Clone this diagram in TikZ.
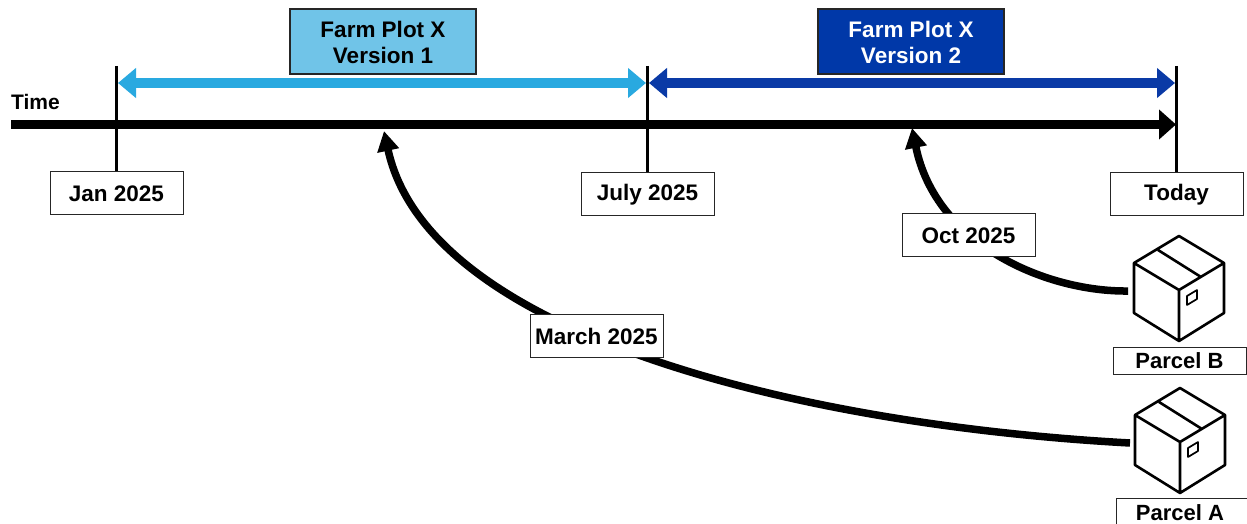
\documentclass[tikz,border=0pt]{standalone}
\usepackage{fontspec}
\setmainfont{Liberation Sans}
\usetikzlibrary{arrows.meta}
\definecolor{lightband}{HTML}{29A9E0}
\definecolor{lightfill}{HTML}{70C4E8}
\definecolor{darkband}{HTML}{0A3AA6}
\definecolor{darkfill}{HTML}{0038A8}
\pgfdeclarelayer{back}
\pgfsetlayers{back,main}
\newcommand{\lowered}[1]{\raisebox{-1.2pt}[\height][\depth]{#1}}
\tikzset{
  x=1pt,y=-1pt,
  every node/.style={font=\fontsize{22.5}{26}\selectfont\bfseries,inner sep=0pt,align=center},
  datebox/.style={draw=black!85,line width=1pt,fill=white,minimum width=133pt,minimum height=43pt},
  parcelbox/.style={draw=black!85,line width=1pt,fill=white,minimum height=27pt,font=\fontsize{22}{26}\selectfont\bfseries},
  versionbox/.style={draw=black!85,line width=1.1pt,minimum width=186pt,minimum height=65pt},
  tick/.style={line width=3pt,black},
  axis/.style={line width=9pt,black,-{Triangle[length=17pt,width=29pt]}},
  band/.style={line width=10.5pt,{Triangle[length=18pt,width=29pt]}-{Triangle[length=18pt,width=29pt]}},
  curvearrow/.style={line width=7.5pt,black,-{Triangle[length=20pt,width=21pt]}},
  parcelicon/.pic={
    \draw[line width=2.6pt,line join=round,black]
      (0,0) -- (45,27) -- (0,54) -- (-45,27) -- cycle
      (-45,27) -- (-45,77) -- (0,105) -- (45,77) -- (45,27)
      (0,54) -- (0,105)
      (-21,14) -- (22,41);
    \draw[line width=1.7pt,line join=round,black]
      (8,60) -- (18,54) -- (18,63) -- (8,69) -- cycle;
  }
}
\begin{document}
\begin{tikzpicture}
\useasboundingbox (0,0) rectangle (1247,524);
% date boxes
\node[datebox] (jan) at (116.5,192.5) {\lowered{Jan 2025}};
\node[datebox] (july) at (647.5,193.5) {\lowered{July 2025}};
\node[datebox] (today) at (1176.5,193.5) {\lowered{Today}};
\node[datebox] (oct) at (968.5,234.5) {\lowered{Oct 2025}};
\node[datebox] (march) at (596.5,335.5) {\lowered{March 2025}};
% version boxes
\node[versionbox,fill=lightfill,text=black] (v1) at (383,41.5) {\lowered{Farm Plot X}\\\lowered{Version 1}};
\node[versionbox,fill=darkfill,text=white] (v2) at (911,41.5) {\lowered{Farm Plot X}\\\lowered{Version 2}};
% label
\node[anchor=west,font=\fontsize{21}{26}\selectfont\bfseries] (time) at (11,102) {Time};
% parcels
\pic at (1179,236) {parcelicon};
\pic at (1180,388) {parcelicon};
\node[parcelbox,minimum width=133pt] (pb) at (1179.5,360.5) {Parcel B};
\node[parcelbox,minimum width=134pt,anchor=west] (pa) at (1116,511.5) {};
\node (patext) at (1180,512.5) {\fontsize{22}{26}\selectfont\bfseries Parcel A};
% anchors
\coordinate (axisstart) at (11,124.5);
\coordinate (axisend) at (1176,124.5);
\coordinate (jantop) at (116.5,66);
\coordinate (julytop) at (647,66);
\coordinate (todaytop) at (1176,66);
\coordinate (b1l) at (118,83);
\coordinate (b1r) at (646,83);
\coordinate (b2l) at (649,83);
\coordinate (b2r) at (1175,83);
\coordinate (fromA) at (1130,443);
\coordinate (fromB) at (1128,291);
\coordinate (hitA) at (384,131);
\coordinate (hitB) at (912,128);
\begin{pgfonlayer}{back}
\draw[curvearrow] (fromA) .. controls (800,425) and (428,335) .. (hitA);
\draw[curvearrow] (fromB) .. controls (1048,292) and (936,246) .. (hitB);
\end{pgfonlayer}
\draw[axis] (axisstart) -- (axisend);
\draw[tick] (jantop) -- (jan.north);
\draw[tick] (julytop) -- (july.north -| julytop);
\draw[tick] (todaytop) -- (today.north -| todaytop);
\draw[band,lightband] (b1l) -- (b1r);
\draw[band,darkband] (b2l) -- (b2r);
\end{tikzpicture}
\end{document}
